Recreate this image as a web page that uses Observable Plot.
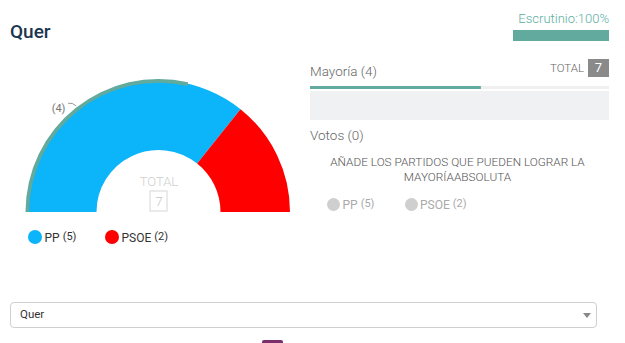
<!DOCTYPE html>
<html><head><meta charset="utf-8">
<script src="https://cdn.jsdelivr.net/npm/d3@7"></script>
<script src="https://cdn.jsdelivr.net/npm/@observablehq/plot@0.6"></script>
<style>
body{margin:0;background:#fff;font-family:Roboto,"Liberation Sans",sans-serif;}
#page{position:relative;width:625px;height:343px;overflow:hidden;background:#fff;}
.abs{position:absolute;white-space:nowrap;line-height:1.2;}
.abs svg{display:block;}
.sup{font-size:11px;vertical-align:0.2em;margin-left:3px;}
.dot{display:inline-block;border-radius:50%;position:absolute;}
</style></head><body><div id="page"></div>
<script>
// ---- data ----
const municipality = "Quer";
const parties = ["PP", "PSOE"];
const seats = [5, 2];
const partyColors = ["#0cb4f9", "#fe0000"];
const totalSeats = 7;
const majoritySeats = 4;
const escrutinio = 100;
const votos = 0;

const teal = "#62aa9d";
const page = document.getElementById("page");
function place(html, css) {
  const d = document.createElement("div");
  d.className = "abs";
  d.innerHTML = html;
  Object.assign(d.style, css);
  page.appendChild(d);
  return d;
}
function placeNode(node, css) {
  const d = place("", css);
  d.appendChild(node);
  return d;
}

// ---- title ----
place(municipality, {left: "10px", top: "21px", fontSize: "19px", color: "#1c3550", fontWeight: "500"});

// ---- donut ----
const pie = d3.pie().sort(null).startAngle(-Math.PI / 2).endAngle(Math.PI / 2);
const slices = pie(seats).map((d, i) => ({...d, party: parties[i], color: partyColors[i]}));
const majArc = pie([majoritySeats, totalSeats - majoritySeats])[0];

function arcMark(data, inner, outer, fill) {
  return (index, scales) => {
    const cx = scales.x(0), cy = scales.y(0);
    const r = scales.x(1) - cx;
    const arc = d3.arc().innerRadius(inner * r).outerRadius(outer * r);
    const g = d3.create("svg:g").attr("transform", `translate(${cx},${cy})`);
    g.selectAll("path").data(data).join("path").attr("d", arc).attr("fill", fill);
    return g.node();
  };
}
const labelAngle = 127.8 * Math.PI / 180;
function tickMark() {
  return (index, scales) => {
    const cx = scales.x(0), cy = scales.y(0);
    const r = scales.x(1) - cx;
    const ax = cx + Math.cos(labelAngle) * r * 1.022, ay = cy - Math.sin(labelAngle) * r * 1.022;
    return d3.create("svg:path")
      .attr("d", `M${ax - 8},${ay - 2.5} Q${ax - 4},${ay - 3.5} ${ax},${ay}`)
      .attr("fill", "none").attr("stroke", "#999").attr("stroke-width", 1).node();
  };
}
function totalBox() {
  return (index, scales) => {
    const cx = scales.x(0), cy = scales.y(0);
    return d3.create("svg:rect")
      .attr("x", cx - 8.5).attr("y", cy - 21).attr("width", 17).attr("height", 20)
      .attr("fill", "none").attr("stroke", "#ddd").attr("stroke-width", 1.2).node();
  };
}
const lblR = 1.1, lblA = 134 * Math.PI / 180;
const donut = Plot.plot({
  width: 320, height: 152, margin: 0,
  x: {domain: [-1, 1], range: [27, 290], axis: null},
  y: {domain: [0, 1], range: [142, 11], axis: null},
  marks: [
    arcMark(slices, 62 / 131.5, 1, d => d.color),
    arcMark([majArc], 129.3 / 131.5, 133 / 131.5, teal),
    tickMark(),
    totalBox(),
    Plot.text([`(${majoritySeats})`], {x: Math.cos(lblA) * lblR, y: Math.sin(lblA) * lblR, text: d => d, fill: "#777", fontSize: 11, fontFamily: "Roboto"}),
    Plot.text(["TOTAL"], {x: 0, y: 0.237, text: d => d, fill: "#cfcfcf", fontSize: 13, fontFamily: "Roboto", fontWeight: 300}),
    Plot.text([String(totalSeats)], {x: 0, y: 0.085, text: d => d, fill: "#c4c4c4", fontSize: 13, fontFamily: "Roboto", fontWeight: 300})
  ]
});
placeNode(donut, {left: "0px", top: "70px"});

// ---- left legend ----
const legX = [34.5, 111.5];
parties.forEach((p, i) => {
  const d = document.createElement("div");
  d.className = "dot";
  Object.assign(d.style, {left: (legX[i] - 7) + "px", top: "230px", width: "14px", height: "14px", background: partyColors[i]});
  page.appendChild(d);
  place(`${p}<span class="sup">(${seats[i]})</span>`, {left: (legX[i] + 10) + "px", top: "230px", fontSize: "12px", color: "#333"});
});

// ---- right panel ----
place(`Escrutinio:${escrutinio}%`, {right: "16px", top: "11px", fontSize: "13px", color: "#5cae9f", fontWeight: "300"});
const escBar = Plot.plot({
  width: 96, height: 11, margin: 0,
  x: {domain: [0, 100], axis: null}, y: {axis: null},
  marks: [Plot.barX([escrutinio], {x: d => d, fill: teal})]
});
placeNode(escBar, {left: "513px", top: "30px"});

place(`Mayoría (${majoritySeats})`, {left: "310px", top: "63px", fontSize: "13.5px", color: "#666", fontWeight: "300"});
place("TOTAL", {right: "41px", top: "62px", fontSize: "11.5px", color: "#666", fontWeight: "300"});
place(String(totalSeats), {left: "588px", top: "59px", width: "21px", height: "18px", background: "#8a8a8a", color: "#fff", fontSize: "13px", textAlign: "center", lineHeight: "18px"});

const majBar = Plot.plot({
  width: 299, height: 3, margin: 0,
  x: {domain: [0, totalSeats], axis: null}, y: {axis: null},
  marks: [
    Plot.barX([totalSeats], {x: d => d, fill: "#f0f0f0"}),
    Plot.barX([majoritySeats], {x: d => d, fill: teal})
  ]
});
placeNode(majBar, {left: "310px", top: "86px"});
place("", {left: "310px", top: "91px", width: "299px", height: "29px", background: "#f0f1f2"});

place(`Votos (${votos})`, {left: "310px", top: "127px", fontSize: "13.5px", color: "#666", fontWeight: "300"});
place("AÑADE LOS PARTIDOS QUE PUEDEN LOGRAR LA<br>MAYORÍAABSOLUTA", {left: "308px", width: "299px", top: "155px", fontSize: "11.8px", color: "#555", fontWeight: "300", textAlign: "center", lineHeight: "15px", whiteSpace: "normal"});

const legX2 = [333.5, 411];
parties.forEach((p, i) => {
  const d = document.createElement("div");
  d.className = "dot";
  Object.assign(d.style, {left: (legX2[i] - 6.5) + "px", top: "197.5px", width: "13px", height: "13px", background: "#cfcfcf"});
  page.appendChild(d);
  place(`${p}<span class="sup">(${seats[i]})</span>`, {left: (legX2[i] + 9) + "px", top: "197px", fontSize: "12px", color: "#aaa"});
});

// ---- dropdown ----
place("", {left: "10px", top: "302px", width: "585px", height: "24px", border: "1px solid #cfcfcf", borderRadius: "4px", background: "#fff"});
place(municipality, {left: "20px", top: "308px", fontSize: "11.5px", color: "#333"});
place('<svg width="8" height="5"><path d="M0,0L8,0L4,5Z" fill="#888"/></svg>', {left: "583px", top: "313px"});
place("", {left: "262px", top: "340px", width: "21px", height: "6px", background: "#7a2e6c", borderRadius: "2px"});
</script></body></html>
